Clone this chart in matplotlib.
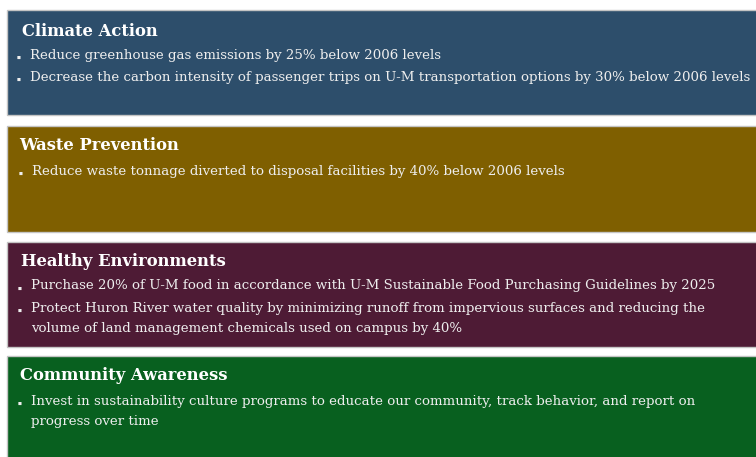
"""Sustainability goals panel: four coloured boxes with bullet lists."""
import matplotlib
matplotlib.use("Agg")
import matplotlib.pyplot as plt
from matplotlib.patches import Rectangle

titles = ["Climate Action", "Waste Prevention", "Healthy Environments", "Community Awareness"]
colors = ["#2d4e6b", "#7f5f00", "#4e1b35", "#08601f"]
bullets = [
    ["Reduce greenhouse gas emissions by 25% below 2006 levels",
     "Decrease the carbon intensity of passenger trips on U-M transportation options by 30% below 2006 levels"],
    ["Reduce waste tonnage diverted to disposal facilities by 40% below 2006 levels"],
    ["Purchase 20% of U-M food in accordance with U-M Sustainable Food Purchasing Guidelines by 2025",
     "Protect Huron River water quality by minimizing runoff from impervious surfaces and reducing the\n"
     "volume of land management chemicals used on campus by 40%"],
    ["Invest in sustainability culture programs to educate our community, track behavior, and report on\n"
     "progress over time"],
]

# layout in pixel coords (y down)
W, H = 756, 457
box_top = [10, 126, 242, 356]
box_bot = [115, 232, 347, 470]
title_y = [31, 146, 261, 376]
title_x = [22, 19, 21, 20]
bullet_y = [[55, 77], [171], [286, 318.5], [411.5]]
text_x = [30, 32, 31, 31]

fig = plt.figure(figsize=(W / 100, H / 100), dpi=100)
ax = fig.add_axes([0, 0, 1, 1])
ax.set_xlim(0, W)
ax.set_ylim(H, 0)
ax.axis("off")

for i, t in enumerate(titles):
    ax.add_patch(Rectangle((7, box_top[i]), W, box_bot[i] - box_top[i],
                           facecolor=colors[i], edgecolor="#c4c4c4", lw=1))
    ax.text(title_x[i], title_y[i], t, color="white", fontsize=11.8,
            fontweight="bold", family="DejaVu Serif", va="center", ha="left")
    for b, y in zip(bullets[i], bullet_y[i]):
        ax.text(text_x[i], y, b, color="#eeeeee", fontsize=9.62, family="DejaVu Serif",
                va="center", ha="left", linespacing=1.72)
        nl = b.count("\n")
        ax.text(text_x[i] - 13, y - nl * 10 + 2.5, "■", color="#eeeeee", fontsize=3,
                va="center", ha="left")

fig.savefig("out.png", dpi=100)
